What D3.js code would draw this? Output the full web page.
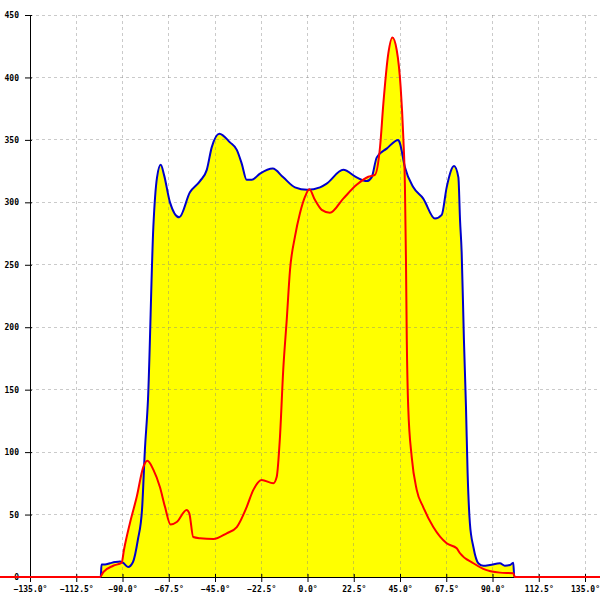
<!DOCTYPE html>
<html>
<head>
<meta charset="utf-8">
<script src="https://cdn.jsdelivr.net/npm/d3@7"></script>
<style>
html,body{margin:0;padding:0;background:#fff;}
svg{display:block;}
text{font-family:"DejaVu Sans Mono",monospace;font-size:8px;font-weight:bold;fill:#000;}
</style>
</head>
<body>
<svg id="chart" width="600" height="600"></svg>
<script>
// ---- data ----
const xTicks = [-135, -112.5, -90, -67.5, -45, -22.5, 0, 22.5, 45, 67.5, 90, 112.5, 135];
const yTicks = [0, 50, 100, 150, 200, 250, 300, 350, 400, 450];

const blueAngles = [-160, -100.6, -100.2, -98.5, -96.1, -93.6, -91.2, -89.8, -87.3, -84.9, -82.5, -80.5, -79.1, -77.6, -75.0, -73.2, -71.4, -69.8, -66.9, -62.4, -57.2, -52.3, -49.0, -46.6, -42.9, -37.7, -34.4, -32.0, -29.6, -27.1, -23.1, -16.9, -11.8, -6.1, -0.2, 6.1, 9.3, 17.4, 23.9, 28.8, 31.2, 33.7, 38.5, 44.2, 45.0, 47.4, 51.5, 56.3, 62.0, 65.3, 67.7, 71.3, 73.4, 74.2, 75.0, 76.1, 77.1, 77.9, 79.0, 80.7, 83.1, 85.5, 88.8, 93.6, 96.0, 98.5, 100.1, 100.6, 160];
const blueValues = [0, 0, 10, 10, 11, 12, 12.5, 11.5, 8, 12, 30, 54, 102, 142, 280, 320, 330, 322, 300, 288, 308, 317, 326, 344, 355, 348, 342, 331, 318, 318, 323, 327, 320, 312, 310, 312, 315, 326, 320, 317, 320, 336, 343, 350, 347, 328, 312, 303, 287, 290, 312, 329, 320, 286, 260, 190, 136, 83, 43, 24, 11, 9, 9.6, 11, 9, 9.6, 11.5, 0, 0];

const redAngles = [-160, -101.0, -99.3, -94.5, -90.4, -89.3, -86.4, -83.1, -79.9, -77.9, -75.0, -71.8, -69.3, -66.6, -63.6, -58.8, -57.5, -55.6, -52.3, -45.8, -39.3, -34.4, -29.6, -26.4, -22.3, -16.6, -15.0, -13.4, -11.8, -10.1, -8.5, -6.1, -3.7, -1.2, 0.9, 3.6, 6.9, 10.9, 17.4, 23.9, 29.6, 32.8, 35.3, 36.9, 39.3, 41.3, 43.4, 45.3, 46.6, 47.4, 47.9, 48.3, 49.0, 50.7, 53.1, 56.3, 61.2, 67.7, 72.6, 74.2, 80.7, 85.5, 93.6, 100.1, 100.9, 160];
const redValues = [0, 0, 4, 9, 11.5, 21.6, 43, 64, 88, 93, 86, 72, 56, 42, 44, 53.6, 51, 32, 31, 30.4, 35, 40, 56, 69.6, 77.7, 75, 80, 112, 166, 206, 246, 272.5, 291, 304.5, 310.4, 302, 294, 291.7, 303, 314, 320.5, 322, 344.5, 379, 419, 432, 422, 392.6, 352.5, 312.5, 254, 190, 136, 96, 70, 56, 40, 27, 23, 19, 11, 6.5, 3.5, 3, 0, 0];

// ---- chart ----
const svg = d3.select("#chart");
const x = d3.scaleLinear().domain([-135, 135]).range([30, 585]);
const y = d3.scaleLinear().domain([0, 450]).range([577, 15]);

const blue = blueAngles.map((a, i) => [a, blueValues[i]]);
const red = redAngles.map((a, i) => [a, redValues[i]]);

const curve = d3.curveMonotoneX;
const area = d3.area().x(d => x(d[0])).y0(y(0)).y1(d => y(d[1])).curve(curve);
const line = d3.line().x(d => x(d[0])).y(d => y(d[1])).curve(curve);

svg.append("path").attr("d", area(blue)).attr("fill", "#ffff00");
svg.append("path").attr("d", area(red)).attr("fill", "#ffff00");

// grid
const grid = svg.append("g").attr("stroke", "#808080").attr("stroke-opacity", 0.42)
  .attr("stroke-dasharray", "3,3").attr("shape-rendering", "crispEdges");
grid.selectAll("line.h").data(yTicks.filter(v => v > 0)).join("line")
  .attr("x1", 30).attr("x2", 600).attr("y1", d => y(d)).attr("y2", d => y(d));
grid.selectAll("line.v").data(xTicks.filter(v => v > -135)).join("line")
  .attr("class", "v")
  .attr("y1", y(450)).attr("y2", y(0)).attr("x1", d => x(d)).attr("x2", d => x(d));

// axes
const xAxis = d3.axisBottom(x).tickValues(xTicks).tickSize(5).tickPadding(4)
  .tickFormat(d => d3.format(".1f")(d) + "°");
const gx = svg.append("g").attr("transform", `translate(0,${y(0)})`).call(xAxis);
gx.select(".domain").attr("d", `M0,0.5H600`).attr("stroke", "#000");
gx.selectAll(".tick line").attr("y1", -3).attr("stroke", "#000");
gx.selectAll("text").attr("font-family", null).attr("font-size", null);

const yAxis = d3.axisLeft(y).tickValues(yTicks).tickSize(5).tickPadding(6)
  .tickFormat(d3.format("d"));
const gy = svg.append("g").attr("transform", `translate(30,0)`).call(yAxis);
gy.select(".domain").attr("d", `M0.5,${y(450)}V${y(0)}`).attr("stroke", "#000");
gy.selectAll(".tick line").attr("x2", 2).attr("x1", -5).attr("stroke", "#000");
gy.selectAll("text").attr("font-family", null).attr("font-size", null);

// lines
svg.append("path").attr("d", line(blue)).attr("fill", "none")
  .attr("stroke", "#0000cc").attr("stroke-width", 2).attr("stroke-linejoin", "round");
svg.append("path").attr("d", line(red)).attr("fill", "none")
  .attr("stroke", "#ff0000").attr("stroke-width", 2).attr("stroke-linejoin", "round");
</script>
</body>
</html>
